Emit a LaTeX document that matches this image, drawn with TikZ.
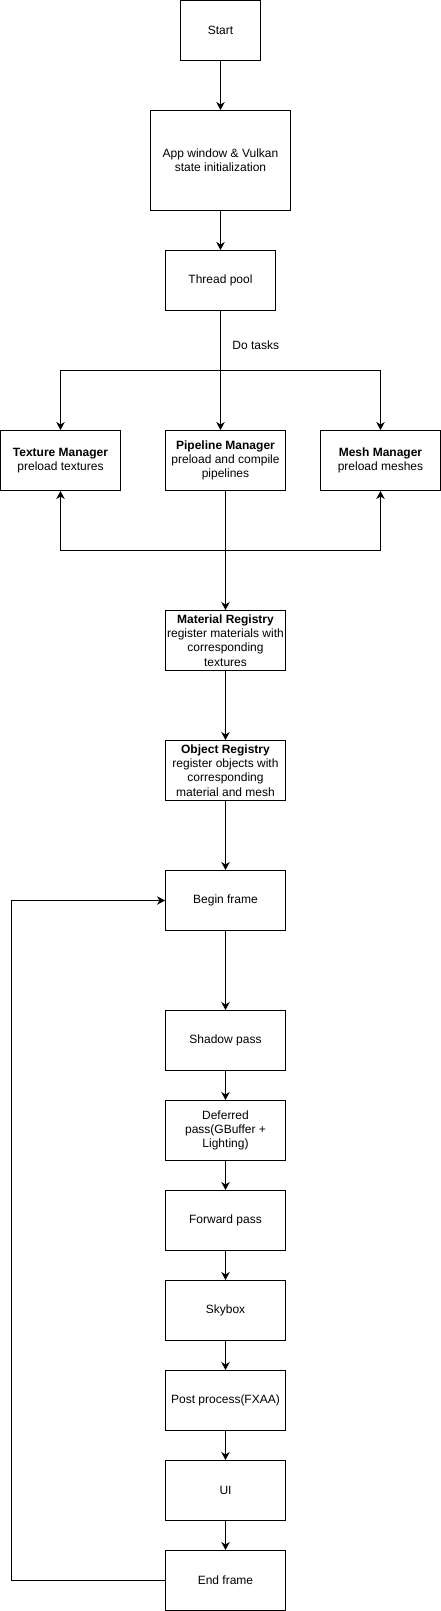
\documentclass[tikz,border=0pt]{standalone}
\usepackage{fontspec}
\setmainfont{Liberation Sans}
\usetikzlibrary{arrows.meta}
\begin{document}
\begin{tikzpicture}[x=1pt,y=-1pt,
  box/.style={draw, line width=1pt, inner sep=0pt, align=center,
    font=\fontsize{12}{14.3}\selectfont, minimum width=120pt, minimum height=60pt},
  arr/.style={line width=1pt, -{Stealth[length=8pt,width=8.5pt,inset=2.5pt]}},
  ln/.style={line width=1pt}]
\useasboundingbox (0,0) rectangle (441,1611);
\node[box, minimum width=80pt] (start) at (220.5,30.5) {Start};
\node[box, minimum width=140pt, minimum height=100pt] (app) at (220.5,160.5) {App window \& Vulkan\\state initialization};
\node[box, minimum width=110pt] (thread) at (220.5,280.5) {Thread pool};
\node[box] (tex) at (60.5,460.5) {\textbf{Texture Manager}\\preload textures};
\node[box] (pipe) at (225.5,460.5) {\textbf{Pipeline Manager}\\preload and compile\\pipelines};
\node[box] (mesh) at (380.5,460.5) {\textbf{Mesh Manager}\\preload meshes};
\node[box] (mat) at (225.5,640.5) {\textbf{Material Registry}\\register materials with\\corresponding\\textures};
\node[box] (obj) at (225.5,770.5) {\textbf{Object Registry}\\register objects with\\corresponding\\material and mesh};
\node[box] (begin) at (225.5,900.5) {Begin frame};
\node[box] (shadow) at (225.5,1040.5) {Shadow pass};
\node[box] (deferred) at (225.5,1130.5) {Deferred\\pass(GBuffer +\\Lighting)};
\node[box] (forward) at (225.5,1220.5) {Forward pass};
\node[box] (sky) at (225.5,1310.5) {Skybox};
\node[box] (post) at (225.5,1400.5) {Post process(FXAA)};
\node[box] (ui) at (225.5,1490.5) {UI};
\node[box] (endf) at (225.5,1580.5) {End frame};
\node[font=\fontsize{12}{14}\selectfont, inner sep=0pt] (dotasks) at (255.7,345.7) {Do tasks};
\coordinate (split) at (220.5,370.5);
\coordinate (join) at (225.5,550);
\coordinate (loopx) at (11.5,0);
\draw[arr] (start) -- (app);
\draw[arr] (app) -- (thread);
\draw[arr] (thread.south) -- (thread.south |- pipe.north);
\draw[arr] (split) -| (tex.north);
\draw[arr] (split) -| (mesh.north);
\draw[arr] (pipe.south) -- (mat.north);
\draw[arr] (join) -| (tex.south);
\draw[arr] (join) -| (mesh.south);
\draw[arr] (mat) -- (obj);
\draw[arr] (obj) -- (begin);
\draw[arr] (begin) -- (shadow);
\draw[arr] (shadow) -- (deferred);
\draw[arr] (deferred) -- (forward);
\draw[arr] (forward) -- (sky);
\draw[arr] (sky) -- (post);
\draw[arr] (post) -- (ui);
\draw[arr] (ui) -- (endf);
\draw[arr] (endf.west) -- (endf.west -| loopx) |- (begin.west);
\end{tikzpicture}
\end{document}
